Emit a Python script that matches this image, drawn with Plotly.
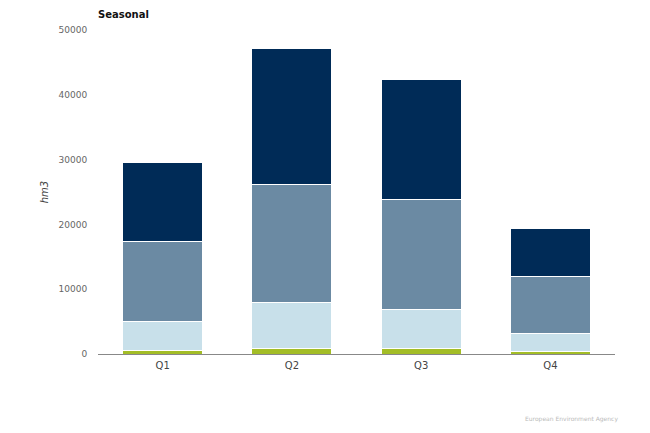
import plotly.graph_objects as go

quarters = ["Q1", "Q2", "Q3", "Q4"]
green_vals = [500, 800, 800, 400]
light_vals = [4500, 7200, 6100, 2700]
steel_vals = [12400, 18200, 17000, 8900]
navy_vals = [12100, 20900, 18400, 7400]
tick_vals = [0, 10000, 20000, 30000, 40000, 50000]
tick_text = ["0", "10000", "20000", "30000", "40000", "50000"]

series = [
    ("Series 1", green_vals, "#a3bd26"),
    ("Series 2", light_vals, "#c8e0ea"),
    ("Series 3", steel_vals, "#6b8aa3"),
    ("Series 4", navy_vals, "#002b57"),
]

fig = go.Figure()
for name, vals, col in series:
    fig.add_trace(go.Bar(x=quarters, y=vals, name=name,
                         marker=dict(color=col, line=dict(color="white", width=1))))

fig.update_layout(
    barmode="stack",
    bargap=0.38,
    width=650, height=433,
    margin=dict(l=98, r=35, t=30, b=79),
    plot_bgcolor="white", paper_bgcolor="white",
    showlegend=False,
    font=dict(family="DejaVu Sans", size=10, color="#555555"),
    xaxis=dict(showline=True, linecolor="#888888", linewidth=1,
               ticks="outside", ticklen=2, tickcolor="white",
               tickfont=dict(size=10, color="#444444")),
    yaxis=dict(range=[0, 50000], tickvals=tick_vals, ticktext=tick_text,
               showgrid=False, zeroline=False,
               tickfont=dict(size=9, color="#666666"),
               ticks="outside", ticklen=8, tickcolor="white",
               title=dict(text="<i>hm3</i>", font=dict(size=10, color="#444444"), standoff=8)),
)
fig.add_annotation(text="<b>Seasonal</b>", xref="paper", yref="paper", x=0, y=1,
                   xanchor="left", yanchor="bottom", yshift=8, xshift=-2, showarrow=False,
                   font=dict(size=10, color="#111111"))
fig.add_annotation(text="European Environment Agency", xref="paper", yref="paper",
                   x=1.01, y=-0.2, xanchor="right", yanchor="middle", showarrow=False,
                   font=dict(size=6, color="#bbbbbb"))
fig.write_html("out.html")
